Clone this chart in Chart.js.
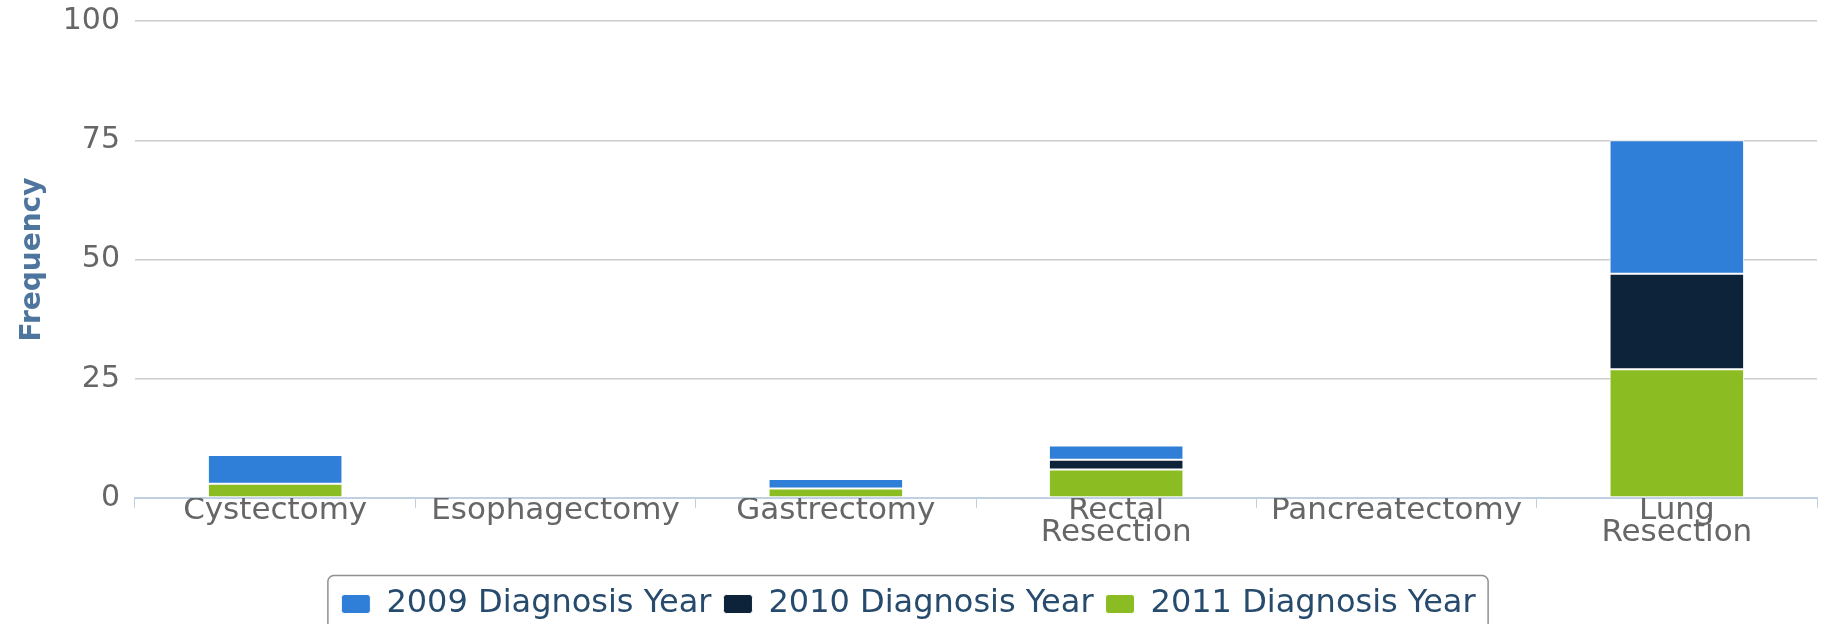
<!DOCTYPE html>
<html>
<head>
<meta charset="utf-8">
<script src="https://cdn.jsdelivr.net/npm/chart.js@4.4.1/dist/chart.umd.min.js"></script>
<style>
    html, body { margin: 0; padding: 0; background: #fff; }
    #wrap { width: 1826px; height: 624px; }
</style>
</head>
<body>
<div id="wrap"><canvas id="chart"></canvas></div>
<script>
// Data
const categories = ['Cystectomy', 'Esophagectomy', 'Gastrectomy', ['Rectal', 'Resection'], 'Pancreatectomy', ['Lung', 'Resection']];
const seriesNames = ['2009 Diagnosis Year', '2010 Diagnosis Year', '2011 Diagnosis Year'];
const values2009 = [6, 0, 2, 3, 0, 28];
const values2010 = [0, 0, 0, 2, 0, 20];
const values2011 = [3, 0, 2, 6, 0, 27];
const yTicks = [0, 25, 50, 75, 100];

const colors = ['#2f7ed8', '#0d233a', '#8bbc21'];
const fontFamily = '"DejaVu Sans", sans-serif';

// Rounded box around the legend items, like the original
const legendBox = {
    id: 'legendBox',
    afterLayout(chart) {
        // nudge legend down a little
        chart.legend.top += 6;
        chart.legend.bottom += 6;
    },
    afterDraw(chart) {
        const boxes = chart.legend.legendHitBoxes;
        if (!boxes || !boxes.length) return;
        let minX = Infinity, maxX = -Infinity;
        boxes.forEach(b => {
            minX = Math.min(minX, b.left);
            maxX = Math.max(maxX, b.left + b.width);
        });
        const ctx = chart.ctx;
        ctx.save();
        ctx.strokeStyle = '#909090';
        ctx.lineWidth = 1.5;
        ctx.beginPath();
        ctx.roundRect(minX - 13.5, 575.5, (maxX - minX) + 26, 70, 6);
        ctx.stroke();
        ctx.restore();
    }
};

const ds = (i, data) => ({
    label: seriesNames[i],
    data: data,
    backgroundColor: colors[i],
    borderColor: '#ffffff',
    borderWidth: 1,
    borderSkipped: false,
    categoryPercentage: 1,
    barPercentage: 0.48
});

new Chart(document.getElementById('chart'), {
    type: 'bar',
    data: {
        labels: categories,
        // bottom of the stack first, legend reversed
        datasets: [ds(2, values2011), ds(1, values2010), ds(0, values2009)]
    },
    options: {
        responsive: true,
        maintainAspectRatio: false,
        animation: false,
        layout: {
            padding: { top: 0, right: 9, left: 0, bottom: 0 }
        },
        scales: {
            x: {
                stacked: true,
                grid: {
                    display: true,
                    drawOnChartArea: false,
                    drawTicks: true,
                    tickLength: 10,
                    color: '#c0d0e0',
                    offset: true
                },
                border: { display: true, color: '#c0d0e0', width: 2 },
                ticks: {
                    color: '#666666',
                    font: { family: fontFamily, size: 31, lineHeight: 0.74 },
                    padding: -9,
                    maxRotation: 0,
                    autoSkip: false
                },
                afterFit(scale) { scale.height = 72; }
            },
            y: {
                stacked: true,
                min: 0,
                max: 100,
                afterBuildTicks(scale) {
                    scale.ticks = yTicks.map(v => ({ value: v }));
                },
                grid: {
                    color: '#cccccc',
                    lineWidth: 1.5,
                    drawTicks: false
                },
                border: { display: false },
                ticks: {
                    color: '#666666',
                    font: { family: fontFamily, size: 30, lineHeight: 0.5 },
                    padding: 15
                },
                title: {
                    display: true,
                    text: 'Frequency',
                    color: '#4d759e',
                    font: { family: fontFamily, size: 28, weight: 'bold' },
                    padding: { top: 16, bottom: 0 }
                },
                afterFit(scale) {
                    scale.width = 135;
                    scale.paddingTop = 21;
                }
            }
        },
        plugins: {
            legend: {
                position: 'bottom',
                reverse: true,
                labels: {
                    color: '#274b6d',
                    font: { family: fontFamily, size: 32 },
                    boxWidth: 29,
                    boxHeight: 19,
                    useBorderRadius: true,
                    borderRadius: 3,
                    padding: 12
                }
            },
            tooltip: { enabled: false }
        }
    },
    plugins: [legendBox]
});
</script>
</body>
</html>
